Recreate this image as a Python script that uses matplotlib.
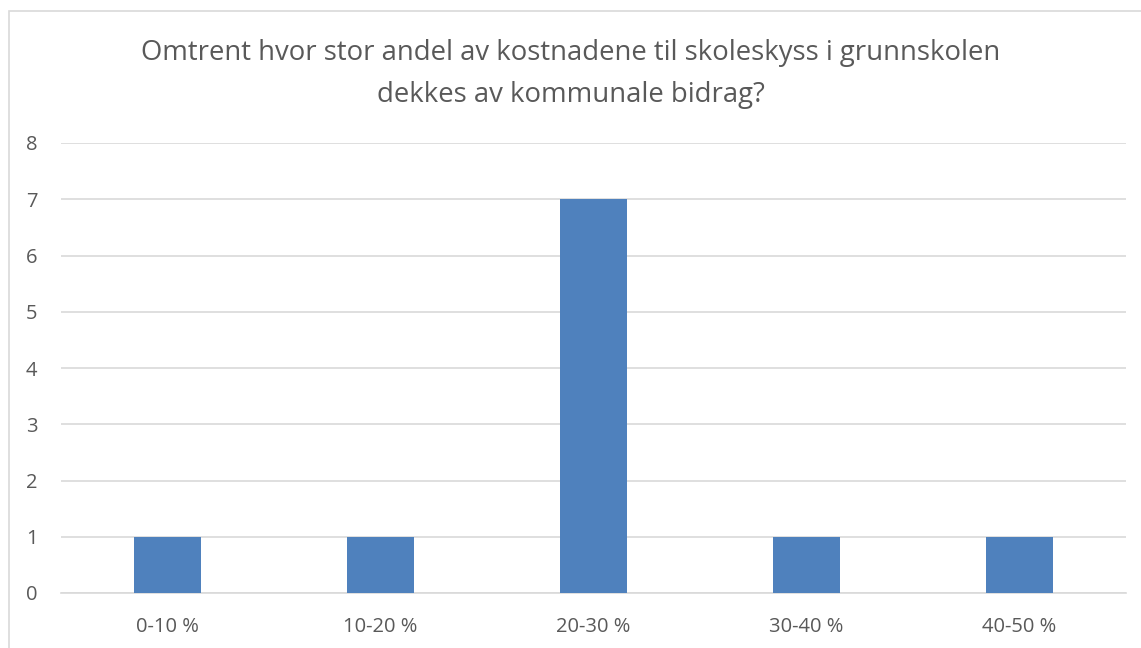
import matplotlib
matplotlib.use("Agg")
import matplotlib.pyplot as plt
from matplotlib.patches import Rectangle

# ---------------------------------
# Data
# ---------------------------------

categories = ["0-10 %", "10-20 %", "20-30 %", "30-40 %", "40-50 %"]
counts = [1, 1, 7, 1, 1]

title = ("Omtrent hvor stor andel av kostnadene til skoleskyss i grunnskolen\n"
         "dekkes av kommunale bidrag?")

plt.rcParams["font.family"] = ["Open Sans", "DejaVu Sans"]

W, H = 1141, 648
fig = plt.figure(figsize=(W / 100, H / 100), dpi=100)

# chart border (cropped at right/bottom)
fig.patches.append(
    Rectangle((8.5 / W, -0.1), 2.0, 1.1 - 11.5 / H,
              transform=fig.transFigure, fill=False,
              edgecolor="#D9D9D9", linewidth=1.2)
)

ax = fig.add_axes([61 / W, (H - 593) / H, 1065 / W, (593 - 143) / H])

x = range(len(categories))
ax.bar(x, counts, width=0.315, color="#4F81BD", zorder=3)

ax.set_xlim(-0.5, len(categories) - 0.5)
ax.set_ylim(0, 8)
ax.set_yticks(range(0, 9))
ax.set_xticks(list(x))
ax.set_xticklabels(categories)

ax.grid(axis="y", color="#D9D9D9", linewidth=1.2, zorder=0)
for s in ["top", "right", "left"]:
    ax.spines[s].set_visible(False)
ax.spines["bottom"].set_color("#D9D9D9")
ax.spines["bottom"].set_linewidth(1.2)

ax.tick_params(axis="both", length=0, labelsize=14.5, colors="#595959")
ax.tick_params(axis="x", pad=17)
ax.tick_params(axis="y", pad=17)

fig.text(0.5, 1 - 74 / H, title, ha="center", va="center",
         fontsize=19.8, color="#595959", linespacing=1.65)

fig.savefig("out.png", dpi=100)
